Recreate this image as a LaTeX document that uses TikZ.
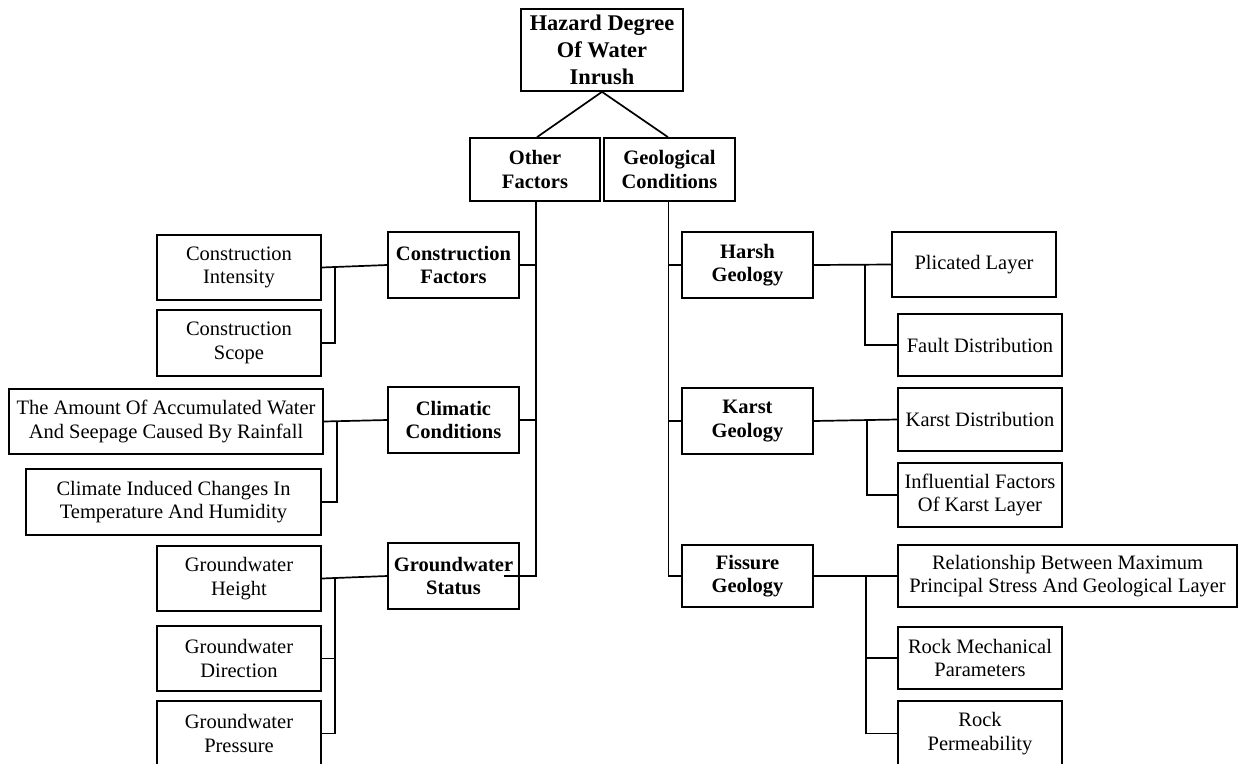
\documentclass[tikz,border=0pt]{standalone}
\usepackage{fontspec}
\setmainfont{Liberation Serif}
\usetikzlibrary{calc}
\begin{document}
\begin{tikzpicture}[x=1pt,y=-1pt,
  box/.style={draw, line width=1.7pt, inner sep=2pt, align=center,
    font=\fontsize{20.5}{23.5}\selectfont},
  bbox/.style={box, font=\fontsize{20.5}{23.5}\selectfont\bfseries},
  link/.style={line width=1.7pt}]
\useasboundingbox (0,0) rectangle (1238,763);
% top
\node[bbox, minimum width=162pt, minimum height=82pt, font=\fontsize{22.4}{26.7}\selectfont\bfseries] (top) at (602,50) {Hazard Degree\\Of Water\\Inrush};
\node[bbox, minimum width=130pt, minimum height=63pt] (of) at (535,169.5) {Other\\Factors};
\node[bbox, minimum width=131pt, minimum height=63pt] (gc) at (669.5,169.5) {Geological\\Conditions};
% left second level
\node[bbox, minimum width=131pt, minimum height=66pt] (cf) at (453.5,265) {Construction\\Factors};
\node[bbox, minimum width=131pt, minimum height=66pt] (cc) at (453.5,420) {Climatic\\Conditions};
\node[bbox, minimum width=131pt, minimum height=66pt] (gs) at (453.5,576) {Groundwater\\Status};
% left leaves
\node[box, minimum width=164pt, minimum height=65pt] (ci) at (239,267.5) {Construction\\Intensity};
\node[box, minimum width=164pt, minimum height=66pt] (cs) at (239,343) {Construction\\Scope};
\node[box, minimum width=314pt, minimum height=65pt] (am) at (166,421.5) {The Amount Of Accumulated Water\\And Seepage Caused By Rainfall};
\node[box, minimum width=295pt, minimum height=66pt] (cl) at (173.5,502) {Climate Induced Changes In\\Temperature And Humidity};
\node[box, minimum width=164pt, minimum height=65pt] (gh) at (239,578.5) {Groundwater\\Height};
\node[box, minimum width=164pt, minimum height=65pt] (gd) at (239,658.5) {Groundwater\\Direction};
\node[box, minimum width=164pt, minimum height=65pt] (gp) at (239,733.5) {Groundwater\\Pressure};
% right second level
\node[bbox, minimum width=131pt, minimum height=66pt] (hg) at (747.5,265) {Harsh\\Geology};
\node[bbox, minimum width=131pt, minimum height=66pt] (kg) at (747.5,421) {Karst\\Geology};
\node[bbox, minimum width=131pt, minimum height=62pt] (fg) at (747.5,576) {Fissure\\Geology};
% right leaves
\node[box, minimum width=164pt, minimum height=65pt] (pl) at (974,264.5) {Plicated Layer};
\node[box, minimum width=164pt, minimum height=62pt] (fd) at (980,345) {Fault Distribution};
\node[box, minimum width=164pt, minimum height=63pt] (kd) at (980,419.5) {Karst Distribution};
\node[box, minimum width=164pt, minimum height=64pt] (if) at (980,495) {Influential Factors\\Of Karst Layer};
\node[box, minimum width=339pt, minimum height=62pt] (rel) at (1067.5,576) {Relationship Between Maximum\\Principal Stress And Geological Layer};
\node[box, minimum width=164pt, minimum height=62pt] (rm) at (980,658) {Rock Mechanical\\Parameters};
\node[box, minimum width=164pt, minimum height=65pt] (rp) at (980,733.5) {Rock\\Permeability};
% junction coordinates
\coordinate (tl) at (536,576);
\coordinate (tr) at (668.5,576);
\coordinate (jx1) at (335,0);
\coordinate (jx2) at (337,0);
\coordinate (jx3) at (335,0);
\coordinate (jx4) at (865,0);
\coordinate (jx5) at (867,0);
\coordinate (jx6) at (866,0);
% top connectors
\draw[link] (top.south) -- ($(of.north)+(2,0)$);
\draw[link] (top.south) -- ($(gc.north)+(-1.5,0)$);
% trunks
\draw[link] (of.south -| tl) -- (tl) -- ($(gs.east)+(-16,0)$);
\draw[link] (cf.east) -- (cf.east -| tl);
\draw[link] (cc.east) -- (cc.east -| tl);
\draw[link] (gc.south -| tr) -- (tr) -- (fg.west);
\draw[link] (hg.west) -- (hg.west -| tr);
\draw[link] (kg.west) -- (kg.west -| tr);
% left groups
\draw[link] (cf.west) -- (ci.east);
\draw[link] (ci.east -| jx1) |- (cs.east);
\draw[link] (cc.west) -- (am.east);
\draw[link] (am.east -| jx2) |- (cl.east);
\draw[link] (gs.west) -- (gh.east);
\draw[link] (gh.east -| jx3) |- (gd.east);
\draw[link] (gh.east -| jx3) |- (gp.east);
% right groups
\draw[link] (hg.east) -- (pl.west);
\draw[link] (pl.west -| jx4) |- (fd.west);
\draw[link] (kg.east) -- (kd.west);
\draw[link] (kd.west -| jx5) |- (if.west);
\draw[link] (fg.east) -- (rel.west);
\draw[link] (rel.west -| jx6) |- (rm.west);
\draw[link] (rel.west -| jx6) |- (rp.west);
\end{tikzpicture}
\end{document}
